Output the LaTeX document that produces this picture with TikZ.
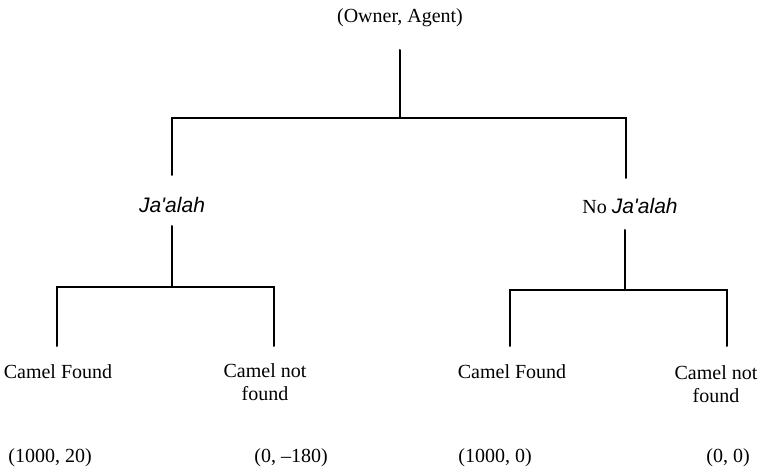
\documentclass[tikz,border=0pt]{standalone}
\usepackage{fontspec}
\setmainfont{Liberation Serif}
\newfontfamily\jafont{Liberation Sans}
\begin{document}
\begin{tikzpicture}[x=1pt,y=-1pt,
  lbl/.style={inner sep=0pt,align=center,font=\fontsize{20}{23}\selectfont},
  br/.style={line width=2pt,line cap=round}]
\useasboundingbox (0,0) rectangle (768,470);
% labels
\node[lbl] (root) at (400,18) {(Owner, Agent)};
\node[lbl] (ja) at (172,205) {\jafont\itshape\fontsize{21}{24}\selectfont Ja'alah};
\node[lbl] (noja) at (630,206) {No {\jafont\itshape\fontsize{21}{24}\selectfont Ja'alah}};
\node[lbl] (cf1) at (58,372) {Camel Found};
\node[lbl] (cn1) at (265,382) {Camel not\\found};
\node[lbl] (cf2) at (512,372) {Camel Found};
\node[lbl] (cn2) at (716,384) {Camel not\\found};
\node[lbl] (p1) at (50,458) {(1000, 20)};
\node[lbl] (p2) at (291,458) {(0, \textendash180)};
\node[lbl] (p3) at (495,458) {(1000, 0)};
\node[lbl] (p4) at (728,458) {(0, 0)};
% junction coordinates
\coordinate (rtop) at (400,50);
\coordinate (rmid) at (400,118);
\coordinate (rl) at (172,118);
\coordinate (rr) at (626,118);
\coordinate (rlb) at (172,175);
\coordinate (rrb) at (626,178);
\coordinate (jtop) at (172,226);
\coordinate (jmid) at (172,287);
\coordinate (jl) at (57,287);
\coordinate (jr) at (274,287);
\coordinate (jlb) at (57,346);
\coordinate (jrb) at (274,346);
\coordinate (ntop) at (625,230);
\coordinate (nmid) at (625,290);
\coordinate (nl) at (510,290);
\coordinate (nr) at (727,290);
\coordinate (nlb) at (510,346);
\coordinate (nrb) at (727,346);
% branches
\draw[br] (rtop) -- (rmid);
\draw[br] (rlb) -- (rl) -- (rr) -- (rrb);
\draw[br] (jtop) -- (jmid);
\draw[br] (jlb) -- (jl) -- (jr) -- (jrb);
\draw[br] (ntop) -- (nmid);
\draw[br] (nlb) -- (nl) -- (nr) -- (nrb);
\end{tikzpicture}
\end{document}
